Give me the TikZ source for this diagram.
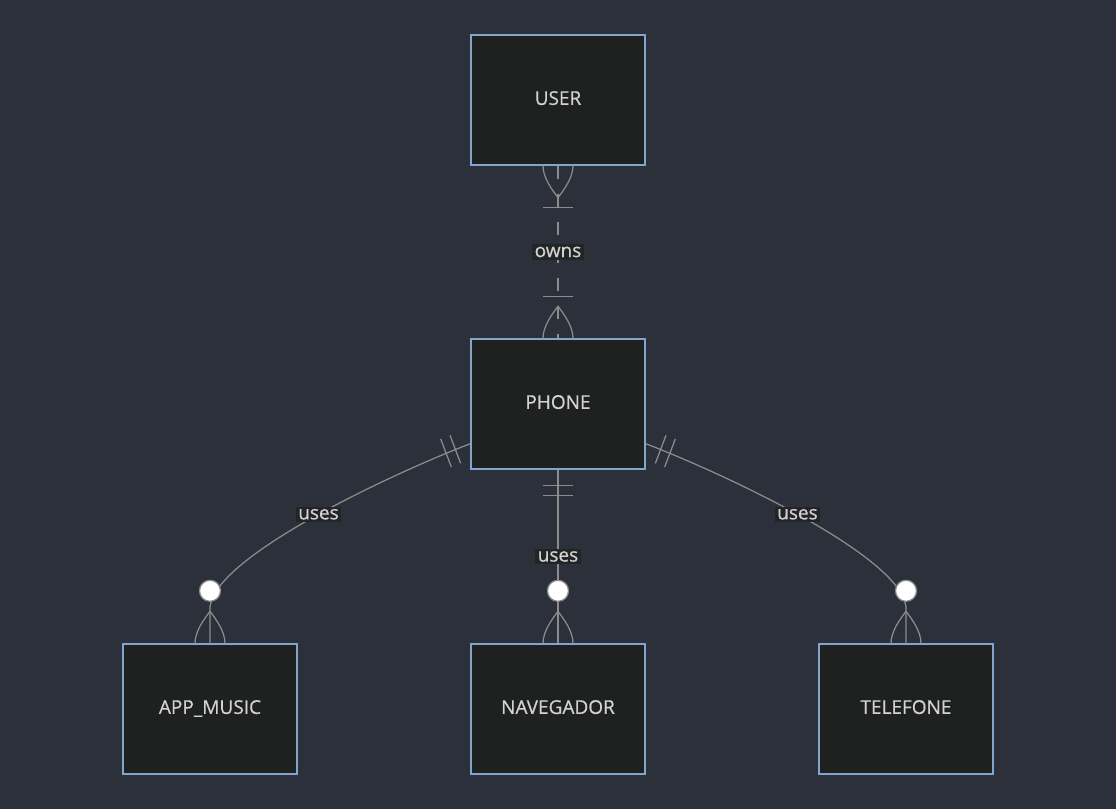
\documentclass[tikz,border=0pt]{standalone}
\usepackage{fontspec}
\setmainfont{Open Sans}
\usepackage{tikz}
\usetikzlibrary{positioning,calc}

\definecolor{bgcol}{RGB}{43,48,59}
\definecolor{boxfill}{RGB}{31,32,32}
\definecolor{boxline}{RGB}{129,165,204}
\definecolor{edgecol}{RGB}{140,140,140}
\definecolor{txtcol}{RGB}{210,210,210}
\definecolor{lblfill}{RGB}{35,36,37}

\newcommand{\erfont}{\fontsize{19}{22}\selectfont\addfontfeatures{FakeBold=0.6}}

\tikzset{
  pics/exactlyone/.style={code={
    \draw[edgeline] (16,-15) -- (16,15) (26,-15) -- (26,15);
  }},
  pics/oneormany/.style={code={
    \draw[edgeline] (0,15) .. controls (12,15) and (24,6) .. (32,0)
      .. controls (24,-6) and (12,-15) .. (0,-15);
    \draw[edgeline] (42,-15) -- (42,15);
  }},
  pics/zeroormany/.style={code={
    \draw[edgeline] (0,15) .. controls (12,15) and (24,6) .. (32,0)
      .. controls (24,-6) and (12,-15) .. (0,-15);
    \draw[edgeline, fill=white] (52.5,0) circle (10.5);
  }}
}

\begin{document}
\begin{tikzpicture}[x=1pt, y=1pt,
        entity/.style={draw=boxline, line width=1.4pt, fill=boxfill,
          minimum width=174pt, minimum height=130pt, inner sep=0pt,
          text=txtcol, font=\erfont},
        edgeline/.style={draw=edgecol, line width=1.25pt},
        lbl/.style={fill=lblfill, text=txtcol, inner sep=2.5pt, font=\erfont}]
        \fill[bgcol] (0,0) rectangle (1116,809);
        \useasboundingbox (0,0) rectangle (1116,809);

        \node[entity] (user) at (558,709) {\raisebox{4pt}{USER}};
        \node[entity] (phone) at (558,405) {\raisebox{4pt}{PHONE}};
        \node[entity] (navegador) at (558,100) {\raisebox{4pt}{NAVEGADOR}};
        \node[entity] (appmusic) at (210,100) {\raisebox{4pt}{APP\_MUSIC}};
        \node[entity] (telefone) at (906,100) {\raisebox{4pt}{TELEFONE}};

        \draw[edgeline, dash pattern=on 13pt off 15pt] (user.south) -- node[lbl] {owns} (phone.north);
        \draw[edgeline] (phone.south) -- node[lbl, pos=.5] {uses} (navegador.north);
        \draw[edgeline] ([yshift=26]phone.south west) .. controls +(-71,-27) and +(-5,52)
          .. ([yshift=32]appmusic.north) node[lbl, pos=.48] {uses} -- (appmusic.north);
        \draw[edgeline] ([yshift=26]phone.south east) .. controls +(71,-27) and +(5,52)
          .. ([yshift=32]telefone.north) node[lbl, pos=.48] {uses} -- (telefone.north);

        \pic[rotate=-90] at (user.south) {oneormany};
        \pic[rotate=90] at (phone.north) {oneormany};
        \pic[rotate=-90] at (phone.south) {exactlyone};
        \pic[rotate=200.8] at ([yshift=26]phone.south west) {exactlyone};
        \pic[rotate=-20.8] at ([yshift=26]phone.south east) {exactlyone};
        \pic[rotate=90] at (appmusic.north) {zeroormany};
        \pic[rotate=90] at (navegador.north) {zeroormany};
        \pic[rotate=90] at (telefone.north) {zeroormany};
      \end{tikzpicture}
\end{document}
